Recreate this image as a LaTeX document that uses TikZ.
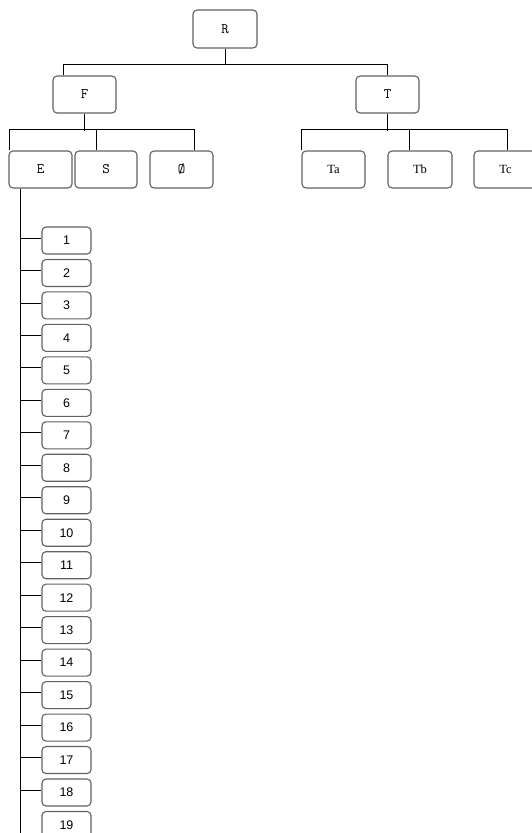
\documentclass[tikz,border=0pt]{standalone}
\usepackage{fontspec}
\usetikzlibrary{calc}
\newfontfamily\serf{Liberation Serif}
\newfontfamily\numf{Liberation Sans}
\tikzset{
  box/.style={draw=black!62, line width=1.1pt, rounded corners=4pt, fill=white, inner sep=0pt},
  topbox/.style={box, minimum width=63pt, minimum height=37pt, font=\ttfamily\fontsize{14.5}{14}\selectfont},
  tbox/.style={box, minimum width=63pt, minimum height=37pt, font=\serf\fontsize{12.5}{13}\selectfont},
  numbox/.style={box, minimum width=49pt, minimum height=27pt, font=\numf\fontsize{12.5}{13}\selectfont},
  conn/.style={draw=black, line width=0.8pt},
}
\begin{document}
\begin{tikzpicture}[x=1pt,y=-1pt]
\useasboundingbox (0,0) rectangle (531,833);
\coordinate (busA) at (0,64);
\coordinate (bottom) at (0,833);
% top level
\node[topbox, minimum width=64pt, minimum height=38pt] (R) at (225,29) {R};
\node[topbox] (F) at (84.5,94.5) {F};
\node[topbox] (T) at (387.5,94.5) {T};
\node[topbox] (E) at (40.5,169.5) {E};
\node[topbox, minimum width=62pt] (S) at (106,169.5) {S};
\node[topbox] (Z) at (181.5,169.5) {Ø};
\node[tbox] (Ta) at (333.5,169.5) {Ta};
\node[tbox, minimum width=64pt] (Tb) at (420,169.5) {Tb};
\node[tbox] (Tc) at (505.5,169.5) {Tc};
% connectors top
\draw[conn] (R.south) -- (R.south |- busA);
\draw[conn] ($(F.north west)+(11,0)$) |- (busA -| T.north) -- (T.north);
\draw[conn] (F.south) -- ++(0,17) coordinate (busB);
\draw[conn] ($(E.north west)+(1,0)$) |- ($(Z.north east)+(-19,-21)$) -- ($(Z.north east)+(-19,0)$);
\draw[conn] ($(S.north west)+(22,0)$) -- ++(0,-21);
\draw[conn] (T.south) -- ++(0,17);
\draw[conn] (Ta.north west) |- ($(Tc.north west)+(34,-21)$) -- ($(Tc.north west)+(34,0)$);
\draw[conn] ($(Tb.north west)+(22,0)$) -- ++(0,-21);
% trunk
\draw[conn] ($(E.south west)+(12,0)$) coordinate (tr) -- (tr |- bottom);
% numbered list
\foreach \i in {1,...,19}{
  \node[numbox] (n\i) at (66.5,{240.5+32.47*(\i-1)}) {\i};
}
\foreach \i in {1,...,18}{
  \path ($(n\i.west)+(0,-2.5)$) coordinate (c\i);
  \draw[conn] (c\i) -- (c\i -| tr);
}
\end{tikzpicture}
\end{document}
